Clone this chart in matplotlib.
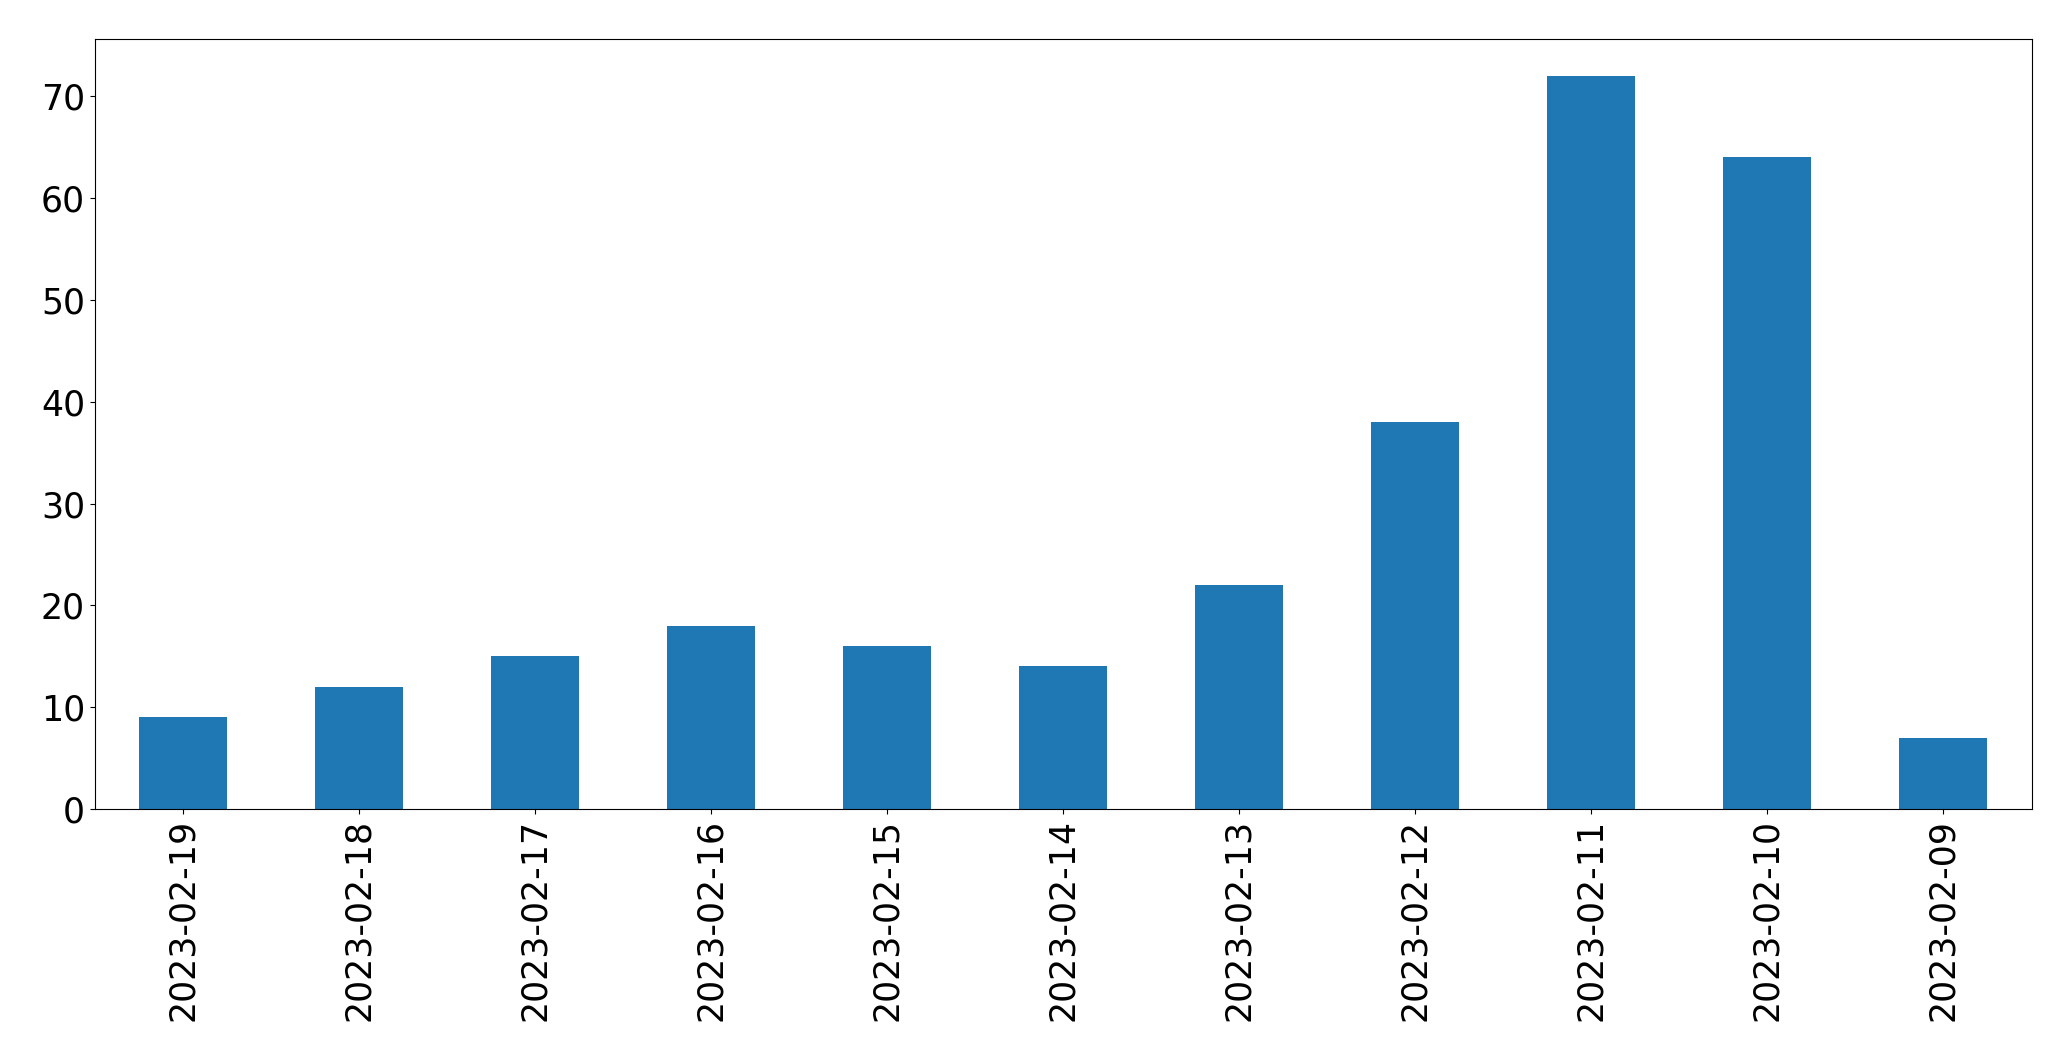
import matplotlib
matplotlib.use("Agg")
import matplotlib.pyplot as plt
import pandas as pd

dates = ["2023-02-19", "2023-02-18", "2023-02-17", "2023-02-16", "2023-02-15",
         "2023-02-14", "2023-02-13", "2023-02-12", "2023-02-11", "2023-02-10",
         "2023-02-09"]
counts = [9, 12, 15, 18, 16, 14, 22, 38, 72, 64, 7]

s = pd.Series(counts, index=dates)

fig = plt.figure(figsize=(20.71, 10.61), dpi=100)
ax = fig.add_axes([94.7 / 2071, 1 - 809 / 1061, (2031.5 - 94.7) / 2071, (809 - 39.3) / 1061])
s.plot.bar(ax=ax, color="#1f77b4", fontsize=25)
ax.tick_params(axis="x", labelrotation=90)

fig.savefig("out.png", dpi=100)
